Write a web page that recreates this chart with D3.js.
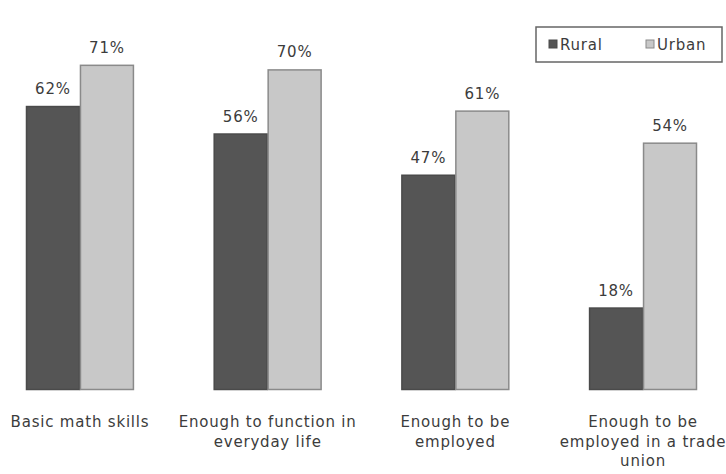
<!DOCTYPE html>
<html>
<head>
<meta charset="utf-8">
<script src="https://cdn.jsdelivr.net/npm/d3@7"></script>
<style>
  body { margin: 0; background: #fff; }
  svg text { font-family: "DejaVu Sans", sans-serif; fill: #3c3c3c; font-size: 15px; letter-spacing: 0.8px; }
</style>
</head>
<body>
<svg id="chart" width="726" height="474"></svg>
<script>
// Data
var categories = [
  ['Basic math skills'],
  ['Enough to function in', 'everyday life'],
  ['Enough to be', 'employed'],
  ['Enough to be', 'employed in a trade', 'union']
];
var seriesNames = ['Rural', 'Urban'];
var rural = [62, 56, 47, 18];
var urban = [71, 70, 61, 54];

var colors = { Rural: '#555555', Urban: '#c8c8c8' };
var strokes = { Rural: '#4a4a4a', Urban: '#8a8a8a' };

var svg = d3.select('#chart');

var x0 = d3.scaleBand()
  .domain(d3.range(categories.length))
  .range([26, 697])
  .paddingInner(0.425)
  .paddingOuter(0);

var x1 = d3.scaleBand()
  .domain(seriesNames)
  .range([0, x0.bandwidth()]);

var y = d3.scaleLinear()
  .domain([0, 100])
  .range([390, -68]);

var rows = categories.map(function(c, i) {
  return { i: i, values: [
    { key: 'Rural', value: rural[i] },
    { key: 'Urban', value: urban[i] }
  ]};
});

var groups = svg.selectAll('g.group')
  .data(rows)
  .enter().append('g')
  .attr('class', 'group')
  .attr('transform', function(d) { return 'translate(' + x0(d.i) + ',0)'; });

groups.selectAll('rect')
  .data(function(d) { return d.values; })
  .enter().append('rect')
  .attr('x', function(d) { return x1(d.key) + 0.5; })
  .attr('y', function(d) { return y(d.value) + 0.5; })
  .attr('width', x1.bandwidth() - 1)
  .attr('height', function(d) { return y(0) - y(d.value) - 1; })
  .attr('fill', function(d) { return colors[d.key]; })
  .attr('stroke', function(d) { return strokes[d.key]; })
  .attr('stroke-width', 1.5);

// Value labels
groups.selectAll('text.val')
  .data(function(d) { return d.values; })
  .enter().append('text')
  .attr('class', 'val')
  .attr('x', function(d) { return x1(d.key) + x1.bandwidth() / 2; })
  .attr('y', function(d) { return y(d.value) - 12; })
  .attr('text-anchor', 'middle')
  .text(function(d) { return d.value + '%'; });

// Category labels
groups.append('text')
  .attr('class', 'cat')
  .attr('text-anchor', 'middle')
  .attr('x', x0.bandwidth() / 2)
  .attr('y', 427)
  .selectAll('tspan')
  .data(function(d) { return categories[d.i]; })
  .enter().append('tspan')
  .attr('x', x0.bandwidth() / 2)
  .attr('dy', function(d, i) { return i === 0 ? 0 : 19.5; })
  .text(function(d) { return d; });

// Legend
var legend = svg.append('g').attr('transform', 'translate(536,27)');
legend.append('rect')
  .attr('width', 186)
  .attr('height', 35)
  .attr('fill', '#fff')
  .attr('stroke', '#666')
  .attr('stroke-width', 1.5);

var legendX = { Rural: 13, Urban: 110 };
seriesNames.forEach(function(s) {
  legend.append('rect')
    .attr('x', legendX[s])
    .attr('y', 13)
    .attr('width', 8)
    .attr('height', 8)
    .attr('fill', colors[s])
    .attr('stroke', strokes[s]);
  legend.append('text')
    .attr('x', legendX[s] + 11)
    .attr('y', 23)
    .text(s);
});
</script>
</body>
</html>
